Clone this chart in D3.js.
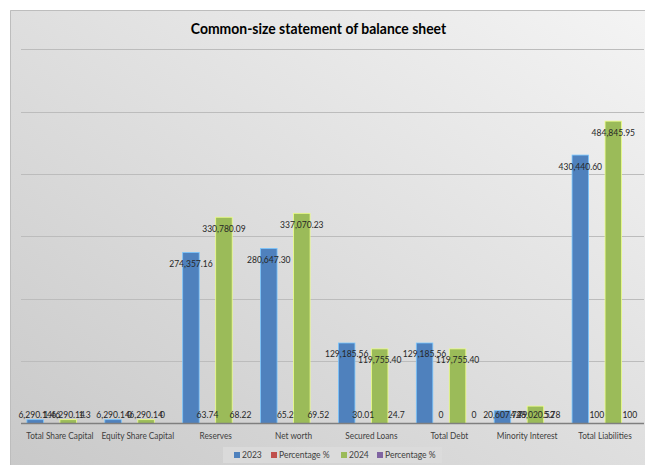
<!DOCTYPE html>
<html>
<head>
<meta charset="utf-8">
<script src="https://cdn.jsdelivr.net/npm/d3@7"></script>
<style>
  html, body { margin: 0; padding: 0; background: #ffffff; }
  svg { display: block; font-family: "Lato", "Open Sans", sans-serif; }
</style>
</head>
<body>
<svg id="chart" width="647" height="465"></svg>
<script>
// Balance sheet items and their values for each year, with common-size percentages
const categories = ["Total Share Capital", "Equity Share Capital", "Reserves", "Net worth",
  "Secured Loans", "Total Debt", "Minority Interest", "Total Liabilities"];
const values2023 = [6290.14, 6290.14, 274357.16, 280647.30, 129185.56, 129185.56, 20607.74, 430440.60];
const percent2023 = [1.46, 0, 63.74, 65.2, 30.01, 0, 4.79, 100];
const values2024 = [6290.14, 6290.14, 330780.09, 337070.23, 119755.40, 119755.40, 28020.52, 484845.95];
const percent2024 = [1.3, 0, 68.22, 69.52, 24.7, 0, 5.78, 100];
const seriesNames = ["2023", "Percentage %", "2024", "Percentage %"];
const seriesColors = ["#4f81bd", "#c0504d", "#9bbb59", "#8064a2"];
const yTicks = [0, 100000, 200000, 300000, 400000, 500000, 600000];

const seriesValues = [values2023, percent2023, values2024, percent2024];
const money = d3.format(",.2f");
const plain = v => String(v);
const seriesFormat = [money, plain, money, plain];

// small text is drawn slightly condensed
const SX = 0.87;

const svg = d3.select("#chart");
const W = 647, H = 465;

// chart area background
const defs = svg.append("defs");
const grad = defs.append("linearGradient").attr("id", "bg")
  .attr("x1", "100%").attr("y1", "0%").attr("x2", "0%").attr("y2", "100%");
grad.append("stop").attr("offset", "0%").attr("stop-color", "#f4f4f4");
grad.append("stop").attr("offset", "100%").attr("stop-color", "#c9c9c9");

svg.append("rect").attr("x", 10).attr("y", 10).attr("width", 635).attr("height", H - 10)
  .attr("fill", "url(#bg)");
svg.append("path").attr("d", `M10.5,${H} V10.5 H645`)
  .attr("fill", "none").attr("stroke", "#bdbdbd").attr("stroke-width", 1);

// title
svg.append("text").attr("transform", "translate(318.5,34) scale(0.93,1)").attr("text-anchor", "middle")
  .attr("font-size", 15).attr("font-weight", "bold").attr("fill", "#000000")
  .text("Common-size statement of balance sheet");

// scales
const plotLeft = 21, plotRight = 644;
const x = d3.scaleBand().domain(categories).range([plotLeft, plotRight]).paddingInner(0).paddingOuter(0);
const xs = d3.scaleBand().domain(d3.range(4)).range([0, x.bandwidth()]).paddingInner(0).paddingOuter(0.36);
const y = d3.scaleLinear().domain([0, 600000]).range([423.6, 49.3]);

// gridlines
svg.append("g").selectAll("line").data(yTicks.filter(t => t > 0)).join("line")
  .attr("x1", plotLeft).attr("x2", plotRight)
  .attr("y1", d => Math.round(y(d)) + 0.5).attr("y2", d => Math.round(y(d)) + 0.5)
  .attr("stroke", "#bcbcbc").attr("stroke-width", 1);

// bars
const groups = svg.append("g").selectAll("g").data(seriesValues).join("g")
  .attr("fill", (d, i) => seriesColors[i])
  .attr("stroke", (d, i) => d3.color(seriesColors[i]).brighter(1.2))
  .attr("stroke-width", 0.8);
groups.selectAll("rect").data((vals, si) => vals.map((v, ci) => ({ v, ci, si }))).join("rect")
  .attr("x", d => x(categories[d.ci]) + xs(d.si))
  .attr("width", xs.bandwidth())
  .attr("y", d => y(d.v))
  .attr("height", d => y(0) - y(d.v));

// axis baseline and category labels
svg.append("line").attr("x1", plotLeft).attr("x2", plotRight)
  .attr("y1", y(0)).attr("y2", y(0)).attr("stroke", "#7f7f7f").attr("stroke-width", 1.5);
const xAxis = svg.append("g").attr("transform", `translate(0,${y(0)})`)
  .call(d3.axisBottom(x).tickSize(0).tickPadding(9));
xAxis.select(".domain").remove();
xAxis.selectAll("text").attr("font-size", 9.5).attr("fill", "#404040")
  .attr("font-family", "Lato, 'Open Sans', sans-serif")
  .attr("transform", `scale(${SX},1)`)
  .attr("x", 0);
xAxis.selectAll(".tick").each(function () {
  // keep the condensed label centred on its tick
  d3.select(this).select("text").attr("text-anchor", "middle");
});

// value labels
const labelGroups = svg.append("g").selectAll("g").data(seriesValues).join("g");
labelGroups.selectAll("text").data((vals, si) => vals.map((v, ci) => ({ v, ci, si }))).join("text")
  .attr("transform", d => {
    const cx = x(categories[d.ci]) + xs(d.si) + xs.bandwidth() / 2;
    const cy = Math.min(y(d.v) + 11, y(0) - 9.5);
    return `translate(${cx},${cy}) scale(${SX},1)`;
  })
  .attr("dy", "0.35em")
  .attr("text-anchor", "middle")
  .attr("font-size", 9.8).attr("fill", "#262626")
  .text(d => seriesFormat[d.si](d.v));

// legend
const legend = svg.append("g");
legend.append("rect").attr("x", 223).attr("y", 447).attr("width", 219).attr("height", 16)
  .attr("fill", "#dcdcdc").attr("opacity", 0.8);
const legendX = [234, 271, 341, 377];
const items = legend.selectAll("g.item").data(seriesNames).join("g").attr("class", "item")
  .attr("transform", (d, i) => `translate(${legendX[i]},455)`);
items.append("rect").attr("x", 0).attr("y", -3).attr("width", 6).attr("height", 6)
  .attr("fill", (d, i) => seriesColors[i]);
items.append("text").attr("transform", `translate(8,0) scale(${SX},1)`)
  .attr("dy", "0.35em").attr("font-size", 9.8)
  .attr("fill", "#404040").text(d => d);
</script>
</body>
</html>
